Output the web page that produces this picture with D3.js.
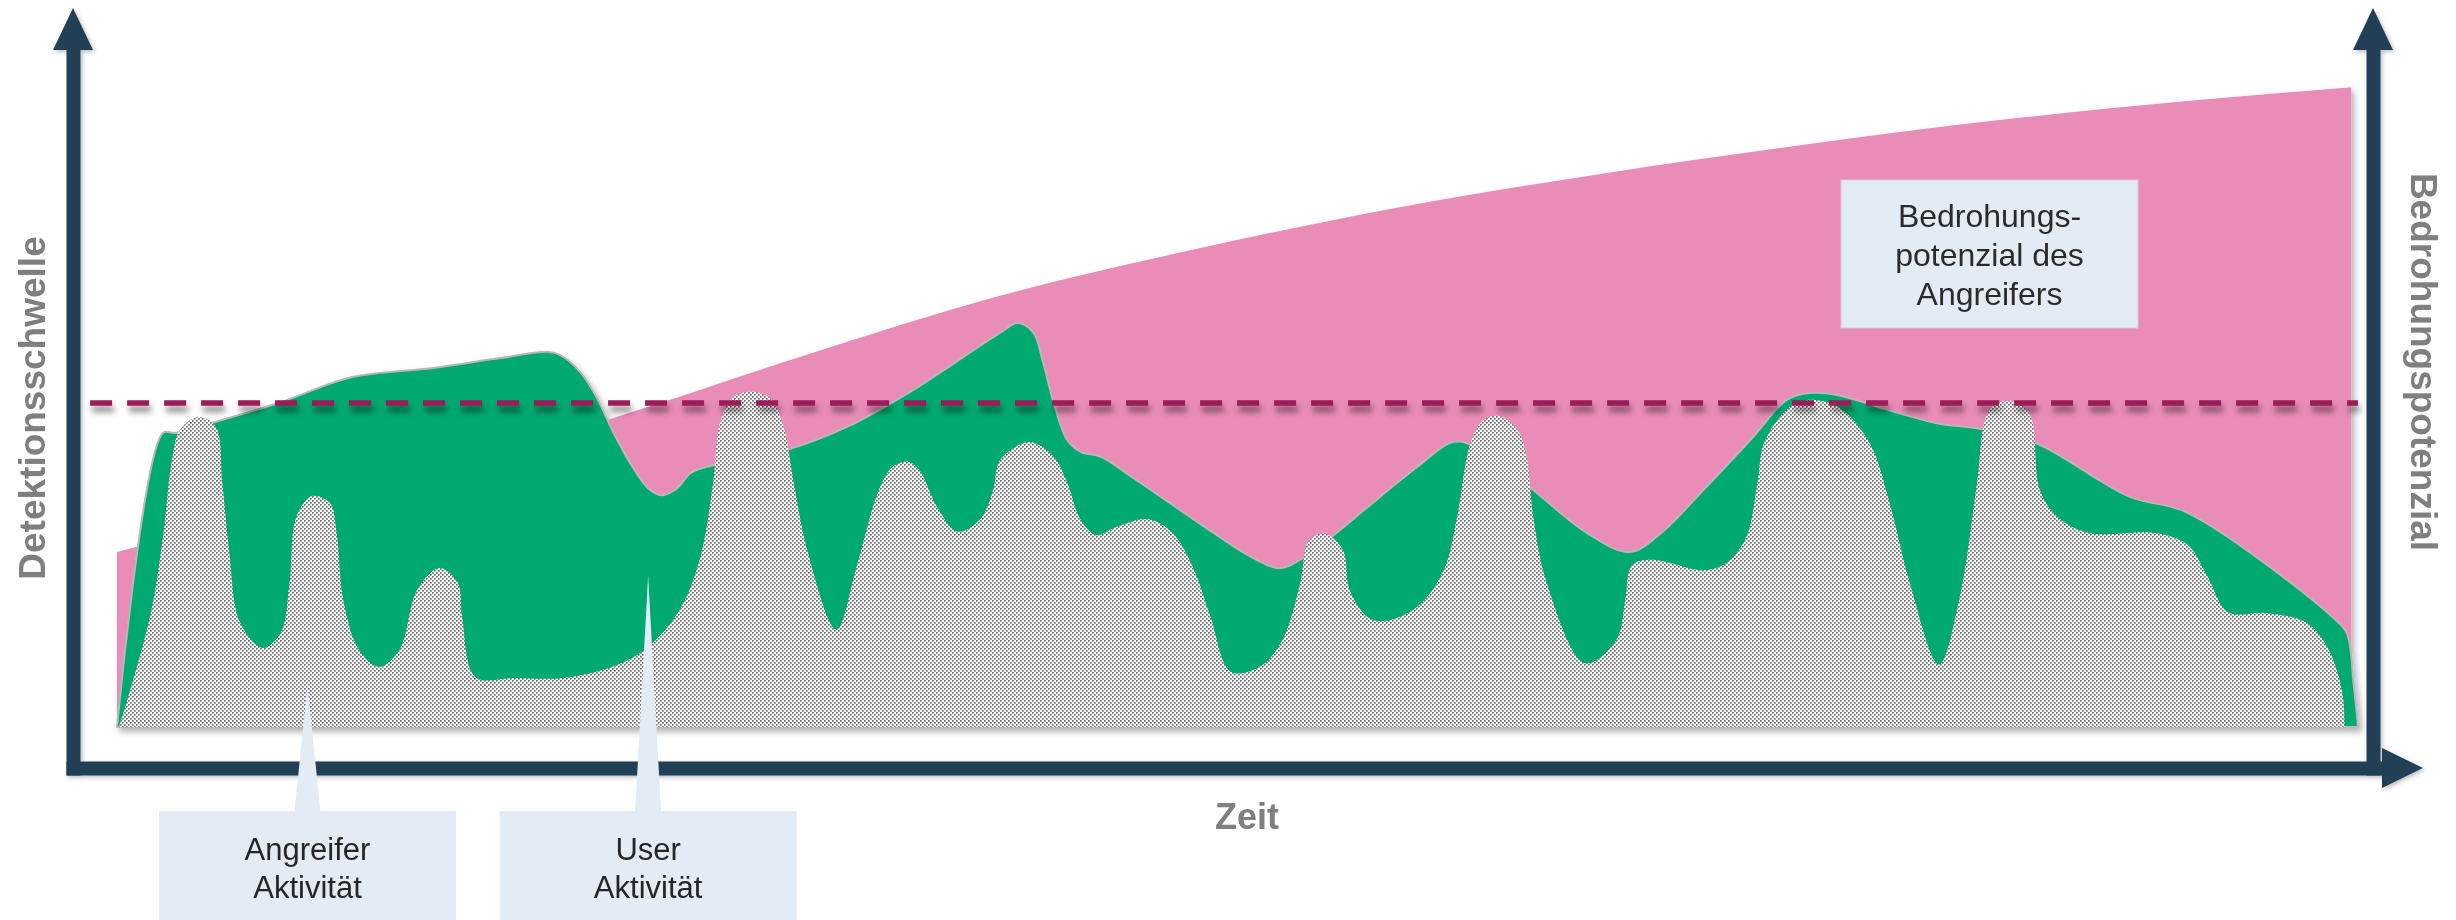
<!DOCTYPE html>
<html>
<head>
<meta charset="utf-8">
<script src="https://cdn.jsdelivr.net/npm/d3@7"></script>
<style>
  body { margin: 0; background: #ffffff; }
  svg { display: block; font-family: "Liberation Sans", Arial, sans-serif; }
</style>
</head>
<body>
<svg id="chart" width="2456" height="920"></svg>
<script>
// Time runs 0..100, levels 0..100.

// Bedrohungspotenzial des Angreifers (pink, rising over time)
const threatPotential = [
  [0, 25.0], [8.2, 31.9], [21.9, 43.9], [30.5, 52.9], [39.4, 61.6], [48.3, 68.4],
  [57.3, 74.3], [66.2, 79.0], [75.1, 83.1], [84.0, 86.7], [93.0, 89.6], [99.7, 91.4]
];

// User Aktivität (green)
const userActivity = [
  [0, 0], [2.05, 42.0], [2.6, 42.0], [4.4, 43.6], [7.3, 46.4], [10.5, 50.0], [14.1, 51.3],
  [17.1, 52.7], [19.2, 53.6], [19.8, 53.1], [20.7, 50.6], [21.4, 47.1], [22.1, 42.4],
  [22.9, 37.7], [23.7, 34.1], [24.3, 33.1], [25.0, 34.1], [25.6, 36.3], [26.6, 37.4],
  [29.9, 39.6], [32.6, 42.9], [35.5, 48.1], [39.4, 56.3], [40.2, 57.7], [40.9, 56.3],
  [41.3, 52.4], [41.8, 46.3], [42.4, 41.0], [43.0, 39.3], [43.9, 38.6], [45.3, 35.7],
  [48.3, 29.1], [50.6, 24.3], [51.9, 22.7], [52.8, 23.9], [54.4, 27.7], [55.8, 31.4],
  [58.0, 37.1], [59.5, 40.6], [60.2, 40.6], [61.7, 37.5], [63.1, 34.1], [65.6, 27.7],
  [67.5, 25.0], [68.9, 27.7], [70.8, 33.9], [73.0, 41.4], [74.5, 46.7], [75.5, 47.7],
  [76.8, 47.4], [79.0, 45.3], [81.2, 43.4], [83.1, 42.6], [85.6, 40.6], [89.8, 32.9],
  [92.4, 30.6], [98.9, 15.6], [99.5, 13.4], [99.8, 6.3], [100, 0]
];

// Angreifer Aktivität (dotted)
const attackerActivity = [
  [0.1, 0], [1.47, 15.7], [2.05, 27.1], [2.45, 38.1], [2.8, 42.4], [3.6, 44.3], [4.4, 42.9],
  [4.7, 34.9], [5.0, 25.3], [5.5, 14.9], [6.5, 11.3], [7.3, 13.4], [7.7, 20.6], [8.0, 30.0],
  [8.7, 33.0], [9.5, 32.0], [9.8, 27.7], [10.1, 18.1], [10.8, 11.0], [11.7, 8.6], [12.6, 11.0],
  [13.4, 19.6], [14.4, 22.7], [15.2, 20.6], [15.4, 15.7], [16.0, 7.1], [17.7, 7.0], [19.9, 7.0],
  [22.1, 8.6], [23.7, 11.4], [25.1, 16.7], [26.0, 23.9], [26.6, 34.9], [26.9, 43.4],
  [27.5, 47.1], [28.3, 47.9], [29.1, 47.1], [29.7, 43.4], [30.2, 34.9], [30.8, 25.3],
  [32.1, 13.9], [33.0, 22.9], [34.0, 33.9], [34.6, 37.1], [35.3, 37.9], [35.8, 36.7],
  [36.6, 31.4], [37.5, 27.9], [38.5, 29.6], [39.1, 33.9], [39.4, 38.1], [40.7, 40.7],
  [41.8, 38.6], [42.4, 34.9], [43.0, 29.6], [43.7, 27.4], [44.6, 28.6], [46.0, 29.7],
  [47.1, 27.7], [48.0, 22.9], [48.8, 15.7], [49.7, 7.9], [51.0, 8.6], [52.0, 12.4],
  [52.8, 20.6], [53.2, 26.7], [53.9, 27.6], [54.7, 25.3], [55.0, 19.6], [55.8, 15.7],
  [56.5, 15.1], [58.0, 17.1], [59.2, 22.4], [59.8, 30.0], [60.4, 40.6], [61.0, 43.9],
  [61.7, 44.4], [62.5, 42.4], [62.9, 38.6], [63.2, 30.0], [63.8, 20.6], [65.5, 9.1],
  [66.9, 12.4], [67.3, 18.1], [67.6, 23.1], [68.5, 23.9], [70.8, 22.4], [71.8, 23.4],
  [72.7, 27.1], [73.2, 34.9], [73.5, 40.6], [74.5, 45.3], [75.4, 46.7], [76.8, 45.7],
  [78.2, 40.6], [79.1, 32.0], [80.0, 20.6], [81.3, 8.9], [82.2, 18.1], [83.0, 34.9],
  [83.4, 44.3], [83.9, 46.3], [84.8, 46.3], [85.4, 44.3], [85.8, 33.9], [86.6, 30.0],
  [88.0, 27.7], [91.0, 27.7], [92.4, 26.0], [93.3, 21.4], [94.2, 16.4], [95.9, 16.3],
  [97.7, 14.9], [98.7, 11.0], [99.3, 4.9], [99.4, 0]
];

// Detektionsschwelle
const detectionThreshold = 46.3;
const thresholdSpan = [-1.2, 100];

// Callouts: [text lines, pointer tip (time, level)]
const callouts = [
  { lines: ["Angreifer", "Aktivität"], tip: [8.5, 6.0] },
  { lines: ["User", "Aktivität"], tip: [23.7, 21.6] }
];
const threatLabel = ["Bedrohungs-", "potenzial des", "Angreifers"];
const axisTitles = { left: "Detektionsschwelle", right: "Bedrohungspotenzial", bottom: "Zeit" };

// ---------------------------------------------------------------
const svg = d3.select("#chart");
const x = d3.scaleLinear().domain([0, 100]).range([117, 2358]);
const y = d3.scaleLinear().domain([0, 100]).range([727, 27]);

const NAVY = "#243f55", PINK = "#ea8cb8", GREEN = "#00a96f", BOX = "#e3ebf4",
      DASH = "#9b1a58", LABEL = "#7f7f7f";

const defs = svg.append("defs");
const dots = defs.append("pattern").attr("id", "dots")
  .attr("width", 4).attr("height", 4).attr("patternUnits", "userSpaceOnUse");
dots.append("rect").attr("width", 4).attr("height", 4).attr("fill", "#ffffff");
dots.append("rect").attr("x", 0).attr("y", 0).attr("width", 1.7).attr("height", 1.7).attr("fill", "#6a6a6a");
dots.append("rect").attr("x", 2).attr("y", 2).attr("width", 1.7).attr("height", 1.7).attr("fill", "#6a6a6a");

const shadow = defs.append("filter").attr("id", "areaShadow")
  .attr("x", "-5%").attr("y", "-5%").attr("width", "110%").attr("height", "115%");
shadow.append("feDropShadow").attr("dx", 3).attr("dy", 4).attr("stdDeviation", 3)
  .attr("flood-color", "#000").attr("flood-opacity", 0.3);

// A horizontal line has a zero-height bounding box, so its filter region is set in user space.
const dashShadow = defs.append("filter").attr("id", "dashShadow")
  .attr("filterUnits", "userSpaceOnUse")
  .attr("x", 0).attr("y", 0).attr("width", 2456).attr("height", 920);
dashShadow.append("feDropShadow").attr("dx", 2).attr("dy", 6).attr("stdDeviation", 3)
  .attr("flood-color", "#000").attr("flood-opacity", 0.5);

const axisShadow = defs.append("filter").attr("id", "axisShadow")
  .attr("filterUnits", "userSpaceOnUse")
  .attr("x", 0).attr("y", 0).attr("width", 2456).attr("height", 920);
axisShadow.append("feDropShadow").attr("dx", 2).attr("dy", 2).attr("stdDeviation", 2)
  .attr("flood-color", "#000").attr("flood-opacity", 0.25);

// Areas
const areas = svg.append("g").attr("filter", "url(#areaShadow)");

const threatArea = d3.area()
  .x(d => x(d[0])).y0(y(0)).y1(d => y(d[1]))
  .curve(d3.curveMonotoneX);
areas.append("path").datum(threatPotential)
  .attr("d", threatArea).attr("fill", PINK);

const wavyArea = d3.area()
  .x(d => x(d[0])).y0(y(0)).y1(d => y(d[1]))
  .curve(d3.curveCatmullRom.alpha(0.5));
areas.append("path").datum(userActivity)
  .attr("d", wavyArea).attr("fill", GREEN)
  .attr("stroke", "#b8b8b8").attr("stroke-width", 2).attr("stroke-linejoin", "round");

areas.append("path").datum(attackerActivity)
  .attr("d", wavyArea).attr("fill", "url(#dots)");

// Detection threshold
svg.append("line")
  .attr("x1", x(thresholdSpan[0])).attr("x2", x(thresholdSpan[1]))
  .attr("y1", y(detectionThreshold)).attr("y2", y(detectionThreshold))
  .attr("stroke", DASH).attr("stroke-width", 5.5)
  .attr("stroke-dasharray", "22 15")
  .attr("filter", "url(#dashShadow)");

// Axes (no ticks, thick domain lines with arrowheads)
const axes = svg.append("g").attr("filter", "url(#axisShadow)");
const leftAxisScale = d3.scaleLinear().range([775, 46]);
const rightAxisScale = d3.scaleLinear().range([775, 46]);
const bottomAxisScale = d3.scaleLinear().range([66, 2384]);

function styleAxis(g) {
  g.selectAll(".domain").attr("stroke", NAVY).attr("stroke-width", 14).attr("stroke-linecap", "butt");
  g.selectAll(".tick").remove();
}
axes.append("g").attr("transform", "translate(73,0)")
  .call(d3.axisLeft(leftAxisScale).tickValues([]).tickSizeOuter(0)).call(styleAxis);
axes.append("g").attr("transform", "translate(2373,0)")
  .call(d3.axisRight(rightAxisScale).tickValues([]).tickSizeOuter(0)).call(styleAxis);
axes.append("g").attr("transform", "translate(0,768)")
  .call(d3.axisBottom(bottomAxisScale).tickValues([]).tickSizeOuter(0)).call(styleAxis);

const arrow = (pts) => axes.append("polygon").attr("points", pts.map(p => p.join(",")).join(" ")).attr("fill", NAVY);
arrow([[73, 8], [53, 50], [93, 50]]);
arrow([[2373, 8], [2353, 50], [2393, 50]]);
arrow([[2423, 768], [2382, 748], [2382, 788]]);

// Axis titles
svg.append("text")
  .attr("transform", "translate(45,408) rotate(-90)")
  .attr("text-anchor", "middle").attr("font-size", 37).attr("font-weight", "bold")
  .attr("fill", LABEL).text(axisTitles.left);
svg.append("text")
  .attr("transform", "translate(2411,362) rotate(90)")
  .attr("text-anchor", "middle").attr("font-size", 37).attr("font-weight", "bold")
  .attr("fill", LABEL).text(axisTitles.right);
svg.append("text")
  .attr("x", 1247).attr("y", 829)
  .attr("text-anchor", "middle").attr("font-size", 36).attr("font-weight", "bold")
  .attr("fill", LABEL).text(axisTitles.bottom);

// Callout boxes with pointers
const boxW = 297, boxTop = 811;
callouts.forEach(c => {
  const cx = x(c.tip[0]), ty = y(c.tip[1]);
  const g = svg.append("g");
  g.append("polygon")
    .attr("points", `${cx},${ty} ${cx - 13},${boxTop + 1} ${cx + 13},${boxTop + 1}`)
    .attr("fill", BOX);
  g.append("rect").attr("x", cx - boxW / 2).attr("y", boxTop)
    .attr("width", boxW).attr("height", 120).attr("fill", BOX);
  c.lines.forEach((line, i) => {
    g.append("text").attr("x", cx).attr("y", 860 + i * 38)
      .attr("text-anchor", "middle").attr("font-size", 31).attr("fill", "#262626")
      .text(line);
  });
});

// Threat label box
const tb = svg.append("g");
tb.append("rect").attr("x", 1841).attr("y", 180).attr("width", 297).attr("height", 148)
  .attr("fill", BOX).attr("stroke", "#d9c8d8").attr("stroke-width", 1);
threatLabel.forEach((line, i) => {
  tb.append("text").attr("x", 1989.5).attr("y", 227 + i * 39)
    .attr("text-anchor", "middle").attr("font-size", 32).attr("fill", "#2b2b2b")
    .text(line);
});
</script>
</body>
</html>
